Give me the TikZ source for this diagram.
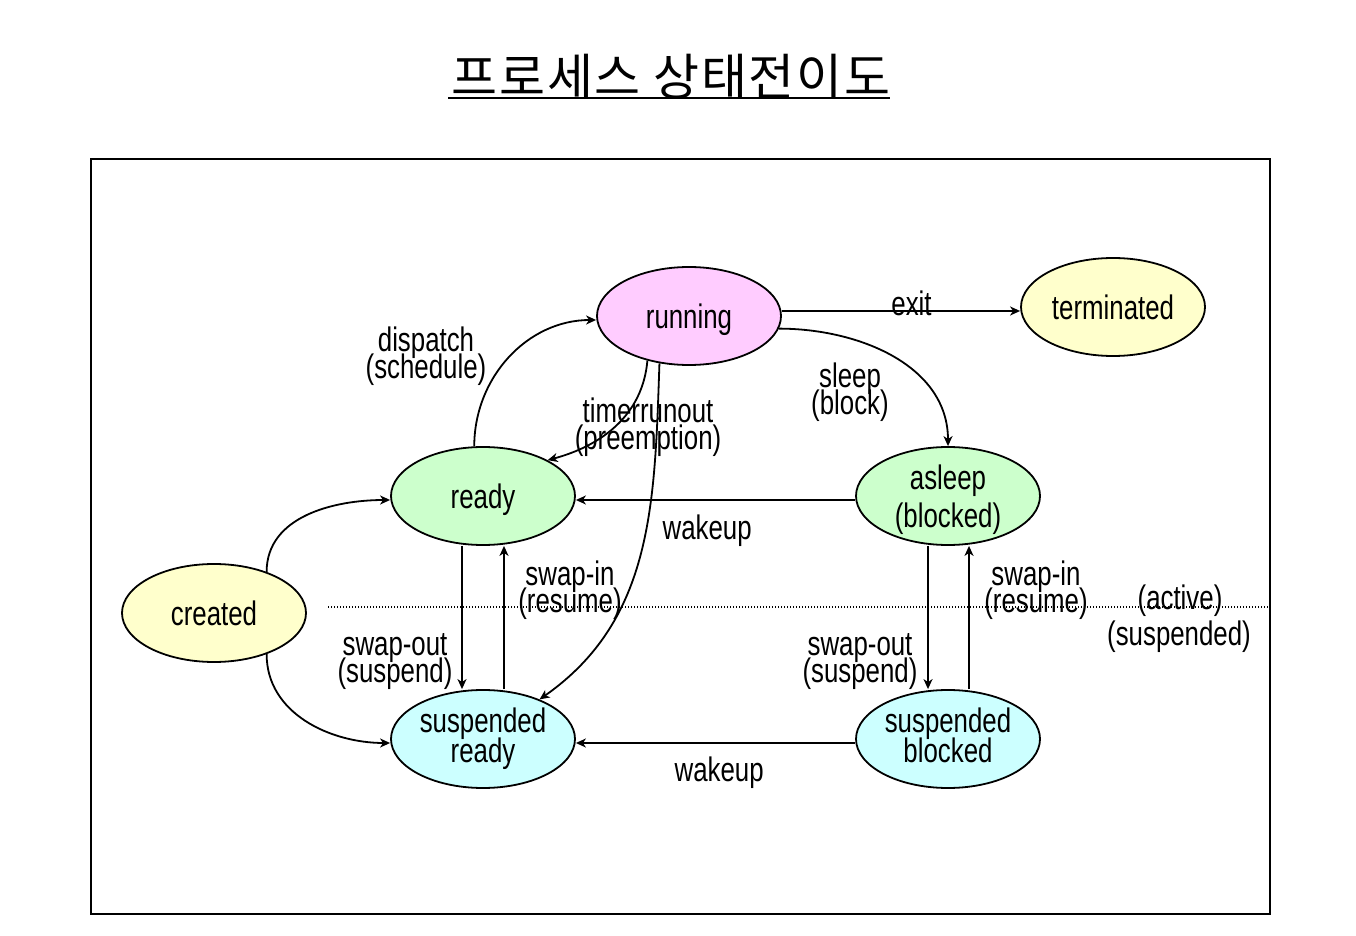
\documentclass[tikz,border=0pt]{standalone}
\usepackage{fontspec}
\setmainfont{Liberation Sans}[FakeStretch=0.76]
\newfontfamily\krfont{Noto Sans CJK KR}[LetterSpace=3.4]
\usetikzlibrary{arrows.meta, shapes.geometric}
\setlength{\lineskiplimit}{-50pt}

\definecolor{runpink}{HTML}{FFCCFF}
\definecolor{endyellow}{HTML}{FFFFCC}
\definecolor{actgreen}{HTML}{CCFFCC}
\definecolor{suscyan}{HTML}{CCFFFF}

\begin{document}
\begin{tikzpicture}[x=1pt, y=1pt, ->, >={Stealth[length=10pt,width=9pt,inset=3pt]}, line width=1.8pt,
	font=\fontsize{34}{27}\selectfont,
	procstate/.style={ellipse, draw, line width=1.8pt, minimum width=184pt, minimum height=98pt, inner sep=0pt, align=center},
	oneline/.style={text height=25pt, text depth=0pt},
	lbl/.style={align=center, inner sep=0pt}]
	
	\useasboundingbox (0,0) rectangle (1356,935);
	
	% Title and frame
	\node[font=\krfont\fontsize{50}{54}\selectfont] (title) at (671,858) {프로세스 상태전이도};
	\coordinate (ul1) at (448,837);
	\coordinate (ul2) at (890,837);
	\draw[-, line width=2pt] (ul1) -- (ul2);
	\coordinate (fr1) at (91,21);
	\coordinate (fr2) at (1270,776);
	\draw[-, line width=2pt] (fr1) rectangle (fr2);
	
	% States
	\node[procstate, oneline, fill=runpink] (running) at (689,619) {running};
	\node[procstate, oneline, fill=endyellow] (terminated) at (1113,628) {terminated};
	\node[procstate, oneline, fill=actgreen] (ready) at (483,439) {ready};
	\node[procstate, fill=actgreen, inner ysep=-4pt, text depth=0pt] (asleep) at (948,439) {asleep\\[11pt](blocked)};
	\node[procstate, oneline, fill=endyellow] (created) at (214,322) {created};
	\node[procstate, fill=suscyan] (sready) at (483,196) {suspended\\[3pt]ready};
	\node[procstate, fill=suscyan, text depth=7pt] (sblocked) at (948,196) {suspended\\[3pt]blocked};
	
	% active / suspended border
	\coordinate (dl1) at (328,328);
	\coordinate (dl2) at (1270,328);
	\draw[-, line width=1.2pt, dash pattern=on 1.2pt off 1.8pt] (dl1) -- (dl2);
	\node[lbl] (active) at (1180,334) {(active)};
	\node[lbl] (suspended) at (1179,298) {(suspended)};
	
	% Edges
	\draw ([yshift=5pt]running.east) -- node[lbl, pos=0.544, yshift=8pt] {exit} ([yshift=-4pt]terminated.west);
	\draw (running.-8) to[out=0, in=90] (asleep.north);
	\node[lbl] (sleeplbl) at (850,543) {sleep\\(block)};
	\draw (ready.100) to[out=90, in=180] ([yshift=-4pt]running.west);
	\node[lbl] (dispatchlbl) at (426,579) {dispatch\\(schedule)};
	\draw (running.-133) to[out=-95, in=15] (ready.29);
	\draw (running.-122) to[out=-92, in=35] (sready.35);
	\node[lbl] (timerlbl) at (648,508) {timerrunout\\(preemption)};
	\draw ([yshift=-4pt]asleep.west) -- node[lbl, pos=0.53, yshift=-31pt] {wakeup} ([yshift=-4pt]ready.east);
	\draw (created.38) to[out=90, in=180] ([yshift=-4pt]ready.west);
	\draw (created.-38) to[out=-90, in=180] ([yshift=-4pt]sready.west);
	\draw ([xshift=-21pt]ready.south) -- ([xshift=-21pt]sready.north);
	\node[lbl] (swapoutl) at (395,273) {swap-out\\(suspend)};
	\draw ([xshift=21pt]sready.north) -- ([xshift=21pt]ready.south);
	\node[lbl] (swapinl) at (570,345) {swap-in\\(resume)};
	\draw ([xshift=-20pt]asleep.south) -- ([xshift=-20pt]sblocked.north);
	\node[lbl] (swapoutr) at (860,273) {swap-out\\(suspend)};
	\draw ([xshift=21pt]sblocked.north) -- ([xshift=21pt]asleep.south);
	\node[lbl] (swapinr) at (1036,345) {swap-in\\(resume)};
	\draw ([yshift=-4pt]sblocked.west) -- node[lbl, pos=0.487, yshift=-30pt] {wakeup} ([yshift=-4pt]sready.east);
	
\end{tikzpicture}
\end{document}
